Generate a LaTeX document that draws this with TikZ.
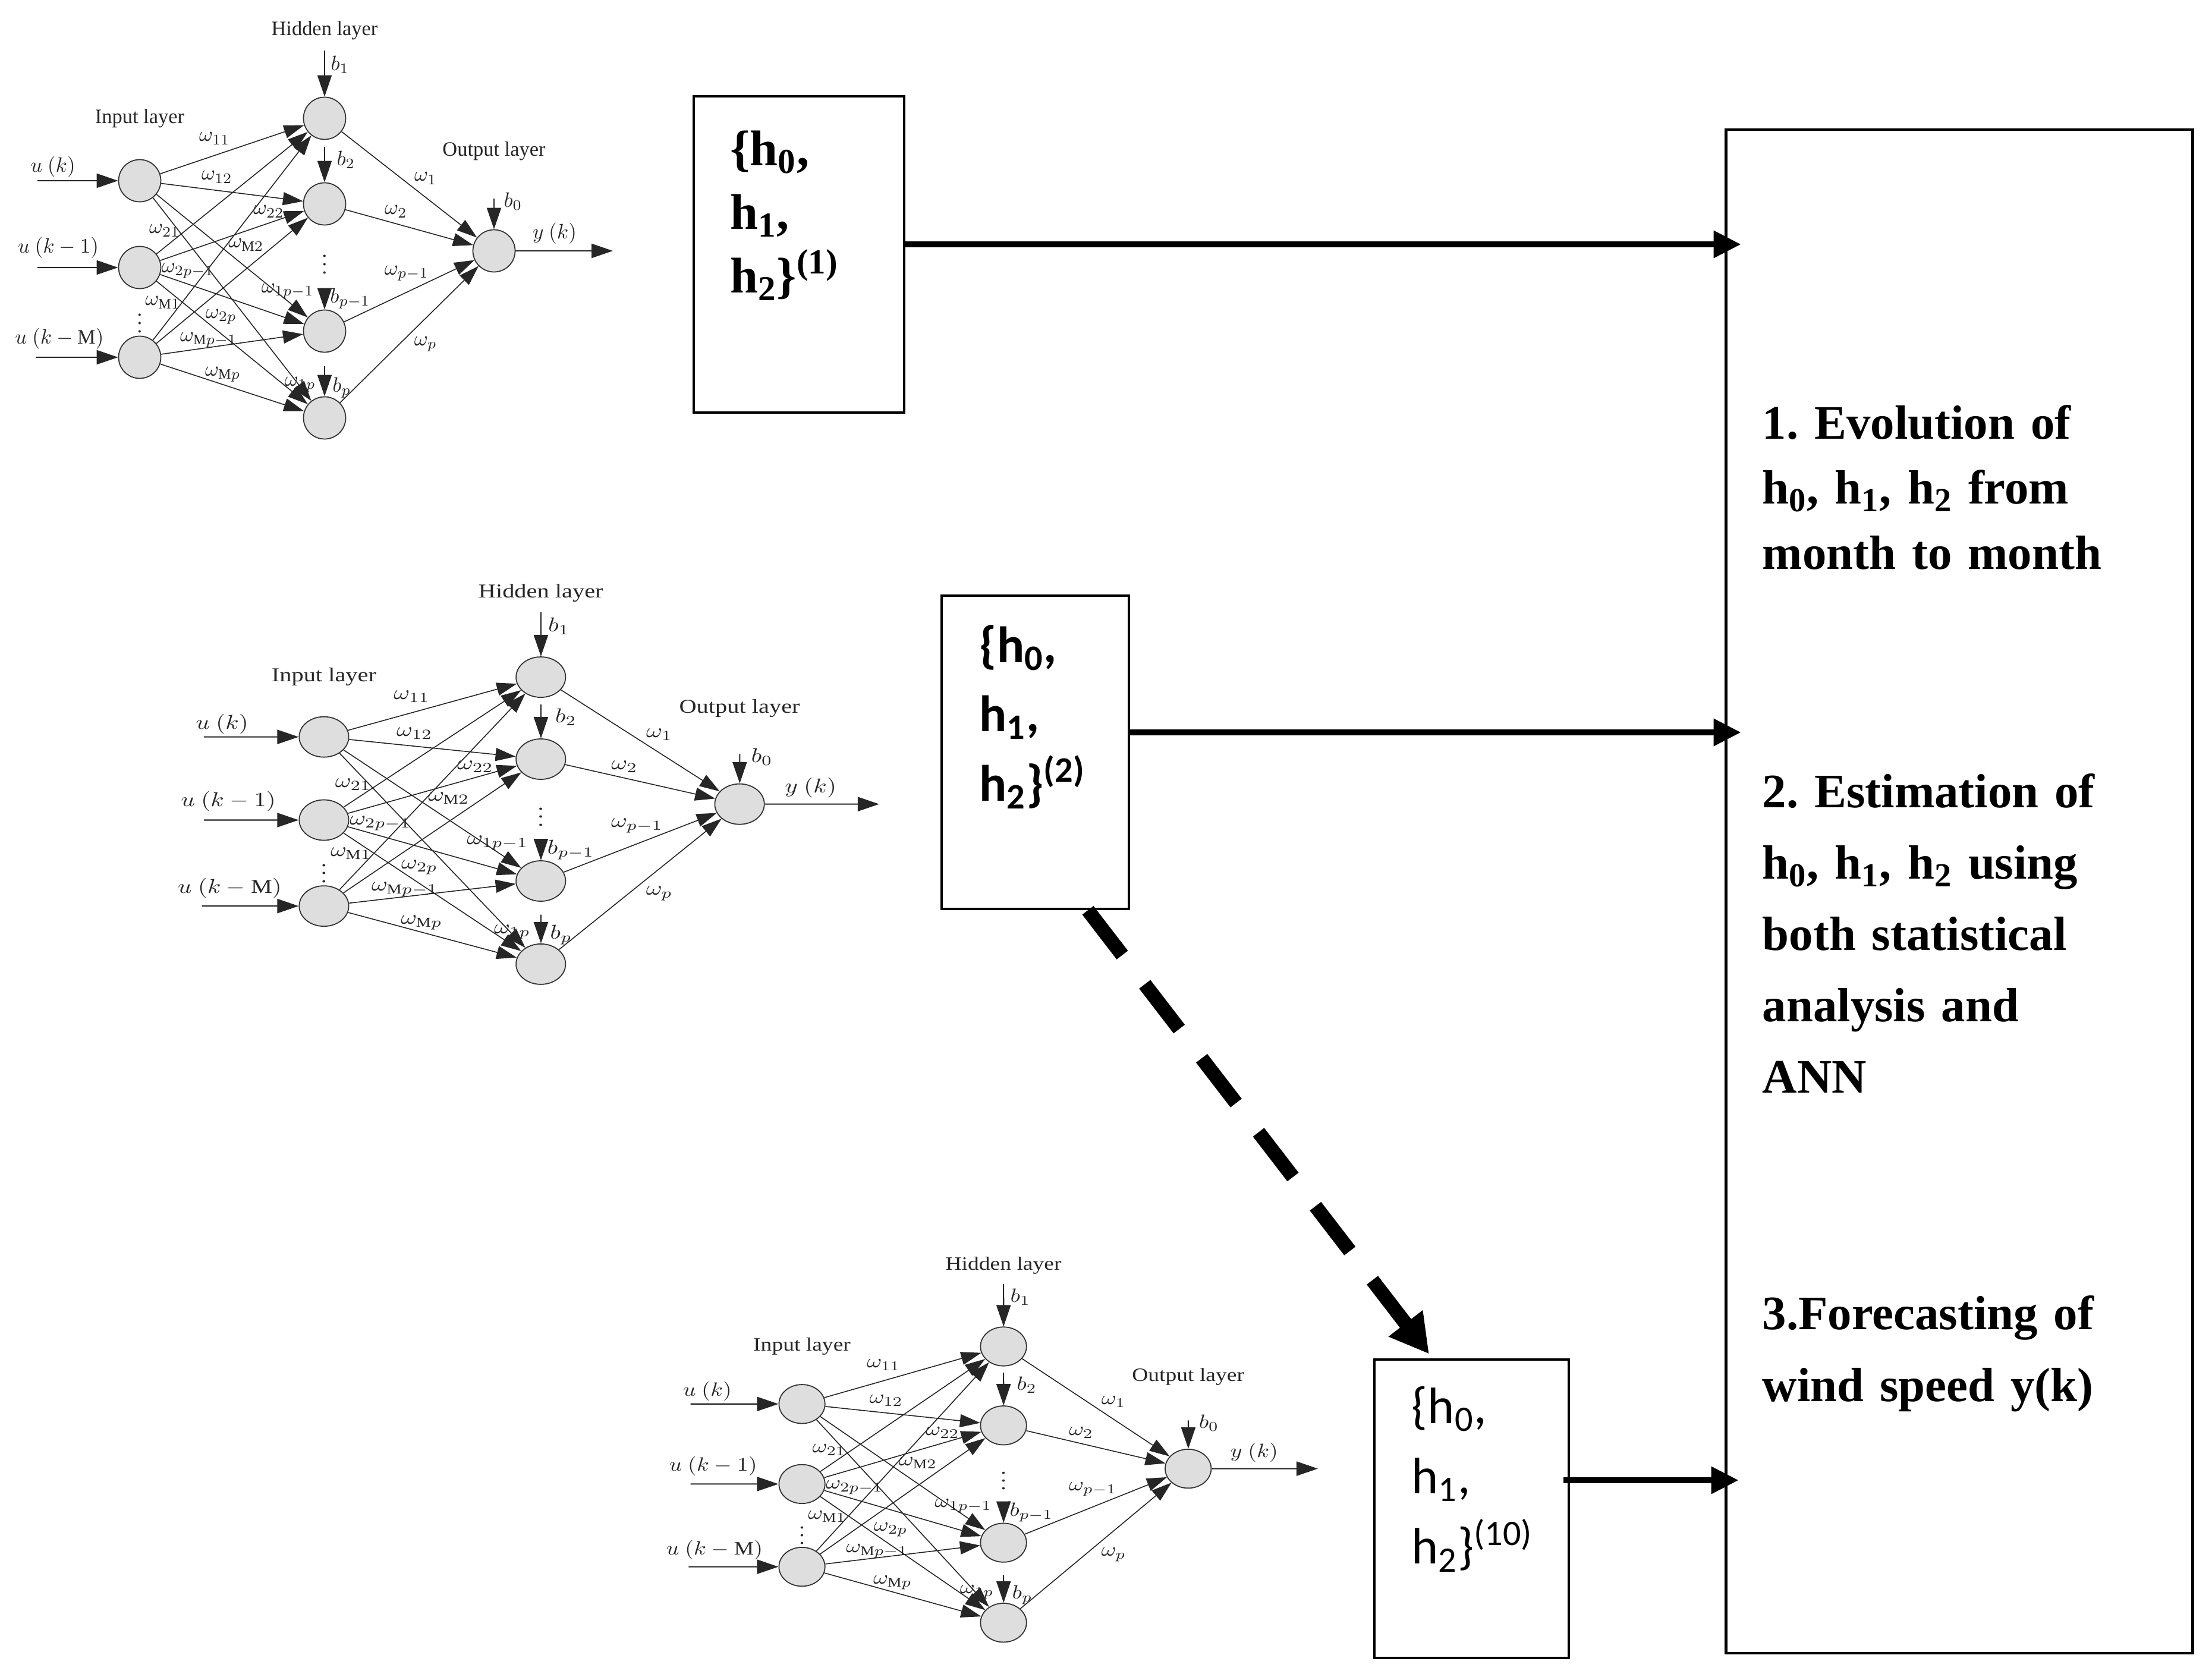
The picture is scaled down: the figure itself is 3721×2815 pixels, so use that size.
\documentclass[tikz,border=0pt]{standalone}
\usepackage{fontspec}
\setmainfont{Liberation Serif}
\newfontfamily\timesfont{Liberation Serif}
\newfontfamily\calibrifont{Carlito}
\usetikzlibrary{arrows.meta,positioning,calc}
\frenchspacing
\tikzset{
    neuron/.style = {draw=black!80, fill=black!13, circle, minimum size=7.1mm, inner sep=0pt, line width=0.5pt},
    nn-label/.style = {font=\fontsize{9.8}{11}\selectfont, text=black!85, inner sep=0.5pt},
    nn-edge/.style = {draw=black!85, line width=0.45pt, -{Triangle[length=3.4mm,width=2.2mm]}},
    nn-in/.style = {draw=black!85, line width=0.6pt, -{Triangle[length=3.6mm,width=2.4mm]}},
    h-box/.style = {draw, line width=1.3pt, rectangle, inner sep=0pt},
    h-text/.style = {anchor=base west, inner sep=0pt, text width=3cm, align=left},
    task-text/.style = {anchor=base west, inner sep=0pt, text width=7.2cm, align=left},
    flow/.style = {line width=2.8pt, -{Triangle[length=4.6mm,width=4.4mm]}},
    month-flow/.style = {line width=6.8pt, dash pattern=on 9.5mm off 6.2mm, -{Triangle[length=6.5mm,width=6.8mm]}},
}

% one ANN sketch: name, shift x, shift y, xscale, yscale
\newcommand{\annnet}[5]{%
\begin{scope}[shift={(#2,#3)}, xscale=#4, yscale=#5, transform shape]
  \node[neuron] (#1-in1) at (235,304) {};
  \node[neuron] (#1-in2) at (235,450) {};
  \node[neuron] (#1-in3) at (235,601) {};
  \node[neuron] (#1-hid1) at (546,199) {};
  \node[neuron] (#1-hid2) at (546,343) {};
  \node[neuron] (#1-hid3) at (546,557) {};
  \node[neuron] (#1-hid4) at (546,703) {};
  \node[neuron] (#1-out) at (831,422) {};
  \node[nn-label] (#1-hl) at (546,51) {Hidden layer};
  \node[nn-label] (#1-il) at (235,199) {Input layer};
  \node[nn-label] (#1-ol) at (831,254) {Output layer};
  \node[nn-label] (#1-vd) at (235,533) {$\vdots$};
  \node[nn-label] (#1-hd) at (546,434) {$\vdots$};
  % inputs
  \node[nn-label] (#1-u1) at (89,281) {$u\ (k)$};
  \node[nn-label] (#1-u2) at (98,417) {$u\ (k-1)$};
  \node[nn-label] (#1-u3) at (100,570) {$u\ (k-\mathrm{M})$};
  \coordinate (#1-s1) at (63,304);
  \coordinate (#1-s2) at (63,450);
  \coordinate (#1-s3) at (60,601);
  \foreach \i in {1,2,3}{\draw[nn-in] (#1-s\i) -- (#1-in\i);}
  % weights
  \foreach \i in {1,2,3}{\foreach \j in {1,...,4}{\draw[nn-edge] (#1-in\i) -- (#1-hid\j);}}
  \foreach \j in {1,...,4}{\draw[nn-edge] (#1-hid\j) -- (#1-out);}
  \foreach \x/\y/\w [count=\n] in {361/233/\omega_{11}, 365/298/\omega_{12}, 277/388/\omega_{21},
      452/356/\omega_{22}, 414/412/\omega_{\mathrm{M}2}, 316/456/\omega_{2p-1}, 484/490/\omega_{1p-1},
      274/509/\omega_{\mathrm{M}1}, 372/533/\omega_{2p}, 351/572/\omega_{\mathrm{M}p-1},
      375/630/\omega_{\mathrm{M}p}, 505/647/\omega_{1p}, 716/300/\omega_{1}, 666/356/\omega_{2},
      684/460/\omega_{p-1}, 716/579/\omega_{p}}
    {\node[nn-label] (#1-w\n) at (\x,\y) {$\w$};}
  % biases
  \coordinate (#1-c1) at (546,85);
  \coordinate (#1-c2) at (546,247);
  \coordinate (#1-c3) at (546,485);
  \coordinate (#1-c4) at (546,616);
  \coordinate (#1-c0) at (831,334);
  \foreach \j in {1,...,4}{\draw[nn-in] (#1-c\j) -- (#1-hid\j);}
  \draw[nn-in] (#1-c0) -- (#1-out);
  \foreach \x/\y/\b [count=\n] in {572/109/b_{1}, 582/269/b_{2}, 589/502/b_{p-1}, 575/652/b_{p}, 863/339/b_{0}}
    {\node[nn-label] (#1-b\n) at (\x,\y) {$\b$};}
  % output
  \coordinate (#1-yend) at (1031,422);
  \draw[nn-in] (#1-out) -- (#1-yend);
  \node[nn-label] (#1-yk) at (933,393) {$y\ (k)$};
\end{scope}}

\begin{document}
\begin{tikzpicture}[x=0.1mm, y=-0.1mm]
\useasboundingbox (0,0) rectangle (3721,2815);

\annnet{netA}{0}{0}{1}{1}
\annnet{netB}{269.3}{948.4}{1.173}{0.958}
\annnet{netC}{1092.9}{2081.5}{1.09}{0.922}

% parameter sets
\node[h-box, minimum width=35.4mm, minimum height=53.2mm] (hset1) at (1344,428) {};
\node[h-box, minimum width=31.5mm, minimum height=52.7mm] (hset2) at (1741.5,1265.5) {};
\node[h-box, minimum width=32.7mm, minimum height=50.2mm] (hset10) at (2475.5,2538) {};
\node[h-box, minimum width=78.5mm, minimum height=256.3mm, line width=1.4pt] (tasks) at (3295.5,1499.5) {};

\node[h-text, font=\timesfont\bfseries\fontsize{24}{30.5}\selectfont] (hset1-text) at (1228,278)
    {\{h\textsubscript{0},\\ h\textsubscript{1},\\ h\textsubscript{2}\}\textsuperscript{(1)}};
\node[h-text, font=\calibrifont\bfseries\fontsize{24.5}{33.2}\selectfont] (hset2-text) at (1647,1114)
    {\{h\textsubscript{0},\\ h\textsubscript{1},\\ h\textsubscript{2}\}\textsuperscript{(2)}};
\node[h-text, font=\calibrifont\fontsize{24.5}{33.7}\selectfont] (hset10-text) at (2374,2394)
    {\{h\textsubscript{0},\\ h\textsubscript{1},\\ h\textsubscript{2}\}\textsuperscript{(10)}};

% what is done with them
\node[task-text, font=\timesfont\bfseries\fontsize{23}{31.2}\selectfont] (task1) at (2964,738)
    {1. Evolution of\\ h\textsubscript{0}, h\textsubscript{1}, h\textsubscript{2} from\\ month to month};
\node[task-text, font=\timesfont\bfseries\fontsize{23}{34.2}\selectfont] (task2) at (2964,1358)
    {2. Estimation of\\ h\textsubscript{0}, h\textsubscript{1}, h\textsubscript{2} using\\ both statistical\\ analysis and\\ ANN};
\node[task-text, font=\timesfont\bfseries\fontsize{23}{34.6}\selectfont] (task3) at (2964,2236)
    {3.Forecasting of\\ wind speed y(k)};

% connectors
\coordinate (a1) at ([yshift=1.7mm]hset1.east);
\coordinate (a2) at ([yshift=3.35mm]hset2.east);
\coordinate (a3) at ([xshift=-1.1mm,yshift=4.8mm]hset10.east);
\draw[flow] (a1) -- ($(a1 -| tasks.west)+(2.8mm,0)$);
\draw[flow] (a2) -- ($(a2 -| tasks.west)+(2.8mm,0)$);
\draw[flow] (a3) -- ($(a3 -| tasks.west)+(2.4mm,0)$);
\draw[month-flow] ([xshift=8.85mm]hset2.south) -- ([xshift=-7.15mm,yshift=0.7mm]hset10.north);
\end{tikzpicture}
\end{document}
